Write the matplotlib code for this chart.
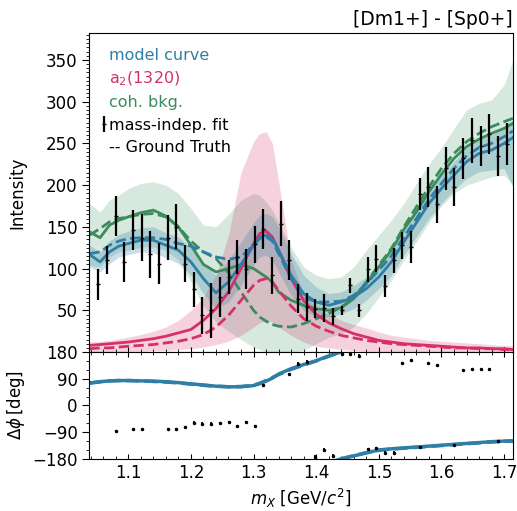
import numpy as np
import matplotlib.pyplot as plt
from matplotlib.lines import Line2D
from matplotlib.ticker import MultipleLocator

# curve grid (GeV/c^2)
mass = [1.038, 1.055, 1.07, 1.085, 1.10, 1.12, 1.14, 1.16, 1.18, 1.20,
        1.22, 1.24, 1.26, 1.28, 1.30, 1.31, 1.32, 1.33, 1.34, 1.36,
        1.38, 1.40, 1.42, 1.44, 1.46, 1.48, 1.50, 1.52, 1.54, 1.56,
        1.58, 1.60, 1.62, 1.64, 1.66, 1.68, 1.70, 1.714]

model = [117, 108, 120, 127, 130, 134, 134, 128, 122, 108,
         88, 71, 84, 105, 128, 138, 140, 136, 122, 92,
         70, 60, 56, 60, 66, 76, 90, 108, 132, 155,
         178, 196, 212, 228, 238, 242, 250, 257]
model_lo = [102, 96, 106, 114, 117, 120, 119, 113, 106, 92,
            70, 52, 60, 80, 104, 114, 116, 110, 96, 68,
            50, 43, 42, 46, 52, 62, 76, 92, 116, 138,
            160, 178, 194, 208, 216, 218, 220, 198]
model_hi = [128, 120, 133, 141, 145, 149, 150, 143, 138, 125,
            106, 92, 110, 132, 155, 164, 166, 162, 150, 118,
            92, 78, 70, 72, 80, 90, 104, 122, 146, 170,
            194, 212, 228, 244, 254, 260, 270, 278]
model_gt = [118, 120, 128, 133, 136, 137, 137, 135, 130, 127,
            120, 114, 111, 114, 128, 136, 138, 133, 118, 88,
            66, 60, 60, 61, 68, 82, 98, 115, 138, 160,
            183, 202, 220, 235, 245, 250, 258, 265]

a2 = [8, 9, 10, 11, 12, 14, 16, 19, 23, 27,
      38, 52, 72, 100, 130, 142, 145, 138, 122, 88,
      62, 45, 35, 28, 22, 18, 14, 12, 10, 9,
      8, 7, 6, 5, 5, 4, 4, 3]
a2_lo = [0, 0, 0, 0, 1, 1, 2, 2, 3, 4,
         6, 9, 13, 20, 30, 35, 38, 36, 30, 20,
         12, 7, 5, 3, 2, 1, 1, 0, 0, 0,
         0, 0, 0, 0, 0, 0, 0, 0]
a2_hi = [12, 13, 14, 16, 18, 21, 25, 30, 38, 50,
         66, 92, 140, 215, 252, 262, 264, 250, 205, 110,
         70, 52, 45, 38, 33, 29, 24, 20, 18, 16,
         14, 13, 12, 11, 10, 9, 8, 8]
a2_gt = [4, 5, 5, 6, 7, 8, 9, 11, 13, 16,
         21, 30, 44, 62, 80, 86, 88, 84, 74, 55,
         40, 31, 25, 20, 17, 14, 12, 10, 9, 8,
         7, 6, 5, 5, 4, 4, 3, 3]

bkg = [144, 137, 152, 158, 162, 167, 170, 163, 150, 128,
       105, 96, 100, 105, 100, 95, 90, 84, 72, 62,
       56, 52, 50, 53, 64, 82, 102, 122, 147, 168,
       192, 213, 232, 246, 255, 262, 268, 274]
bkg_lo = [104, 102, 114, 120, 122, 126, 126, 122, 110, 84,
          55, 36, 25, 15, 6, 3, 0, 0, 0, 0,
          2, 10, 18, 22, 30, 46, 66, 86, 110, 132,
          155, 175, 190, 200, 205, 210, 212, 200]
bkg_hi = [178, 168, 182, 188, 196, 202, 204, 200, 190, 172,
          152, 150, 165, 182, 190, 188, 180, 170, 155, 125,
          102, 92, 88, 90, 102, 122, 140, 158, 178, 202,
          225, 245, 268, 290, 298, 302, 320, 350]
bkg_gt = [140, 148, 156, 160, 162, 165, 166, 162, 150, 133,
          120, 112, 95, 72, 50, 42, 37, 33, 31, 30,
          34, 40, 46, 54, 65, 84, 104, 124, 150, 174,
          198, 220, 238, 252, 262, 270, 276, 280]

# relative phase of the model (unwrapped, deg)
phase = [75, 80, 83, 84, 84, 83, 82, 80, 77, 73,
         69, 65, 63, 63, 67, 74, 82, 92, 106, 124,
         138, 151, 167, 180.5, 190, 200, 210, 214, 217, 220,
         223, 226, 229, 232, 235, 238, 240, 241]
phase_gt = [76, 80, 83, 84, 84, 83, 81, 79, 76, 72,
            68, 65, 63, 64, 68, 75, 84, 94, 104, 122,
            136, 150, 166, 180, 191, 201, 209, 213, 216, 219,
            222, 225, 228, 231, 234, 237, 239, 240]

# mass-independent fit
bins = np.linspace(1.052, 1.704, 48)
intensity = [81, 110, 163, 108, 146, 137, 117, 106, 137, 150,
             106, 75, 44, 50, 66, 90, 114, 100, 129, 147,
             92, 154, 110, 64, 54, 52, 53, 43, 50, 80,
             50, 99, 112, 79, 110, 128, 126, 189, 198, 177,
             220, 198, 232, 254, 247, 261, 235, 249]
intensity_err = [19, 17, 24, 24, 24, 28, 28, 25, 27, 27,
                 22, 21, 22, 33, 24, 20, 20, 24, 22, 24,
                 22, 27, 24, 17, 17, 11, 17, 10, 5, 9,
                 8, 15, 16, 13, 15, 16, 19, 19, 24, 22,
                 26, 23, 25, 27, 24, 24, 24, 25]

phase_bin = [2, 4, 5, 8, 9, 10, 11, 12, 13, 14, 15, 16, 17, 18, 19,
             22, 23, 24, 25, 26, 27, 28, 29, 30, 31, 32, 33, 34, 35,
             36, 37, 38, 39, 41, 42, 43, 44, 45, 46]
phase_pts = [-85, -80, -80, -79, -79, -72, -58, -62, -62, -60, -57, -69, -55, -68, 69,
             106, 140, 148, -172, -150, -170, 173, 175, 168, -146, -144, -159, -159, 142,
             152, -139, 142, 136, -133, 119, 124, 122, 122, -119]
phase_pts_err = [2, 2, 2, 2, 2, 2, 4, 5, 7, 3, 3, 2, 4, 2, 2,
                 3, 6, 4, 6, 6, 6, 4, 3, 5, 4, 4, 4, 4, 3,
                 4, 2, 2, 2, 2, 2, 2, 2, 2, 2]

BLUE = '#2f7ea6'
PINK = '#d62f6c'
GREEN = '#3a8c5c'

fig = plt.figure(figsize=(5.17, 5.11), dpi=100)
ax = fig.add_axes([0.173, 0.311, 0.819, 0.624])
axp = fig.add_axes([0.173, 0.102, 0.819, 0.209], sharex=ax)

ax.fill_between(mass, bkg_lo, bkg_hi, color=GREEN, alpha=0.2, lw=0)
ax.fill_between(mass, a2_lo, a2_hi, color=PINK, alpha=0.22, lw=0)
ax.fill_between(mass, model_lo, model_hi, color=BLUE, alpha=0.25, lw=0)

ax.plot(mass, bkg, color=GREEN, lw=2)
ax.plot(mass, bkg_gt, color=GREEN, lw=2, ls='--')
ax.plot(mass, a2, color=PINK, lw=2)
ax.plot(mass, a2_gt, color=PINK, lw=2, ls='--')
ax.plot(mass, model, color=BLUE, lw=2)
ax.plot(mass, model_gt, color=BLUE, lw=2, ls='--')

eb = ax.errorbar(bins, intensity, yerr=intensity_err, fmt='_', color='k',
                 ms=3, elinewidth=1.6, capsize=0, zorder=5)

ax.set_xlim(1.038, 1.714)
ax.set_ylim(0, 382)
ax.yaxis.set_major_locator(MultipleLocator(50))
ax.yaxis.set_minor_locator(MultipleLocator(5))
ax.set_yticks([50, 100, 150, 200, 250, 300, 350])
ax.xaxis.set_major_locator(MultipleLocator(0.1))
ax.xaxis.set_minor_locator(MultipleLocator(0.02))
ax.tick_params(axis='x', which='both', direction='in', labelbottom=False)
ax.tick_params(axis='y', which='major', length=5, labelsize=12)
ax.tick_params(axis='y', which='minor', length=2.5)
ax.set_ylabel('Intensity', fontsize=12)
ax.yaxis.set_label_coords(-0.148, 0.5)
ax.set_title('[Dm1+] - [Sp0+]', loc='right', fontsize=13.5)

handles = [Line2D([], [], lw=0), Line2D([], [], lw=0), Line2D([], [], lw=0),
           eb, Line2D([], [], lw=0)]
labels = ['model curve', 'a$_2$(1320)', 'coh. bkg.', 'mass-indep. fit',
          '-- Ground Truth']
leg = ax.legend(handles, labels, loc='upper left', frameon=False,
                handlelength=0, handletextpad=0.3, fontsize=11.5,
                labelspacing=0.45)
for text, c in zip(leg.get_texts(), [BLUE, PINK, GREEN, 'k', 'k']):
    text.set_color(c)

# phase panel: draw the unwrapped curve and its copy shifted by 360 deg
for shift in (0, -360):
    axp.plot(mass, np.array(phase) + shift, color=BLUE, lw=2.5)
    axp.plot(mass, np.array(phase_gt) + shift, color=BLUE, lw=2.5, ls='--')
axp.errorbar(bins[phase_bin], phase_pts, yerr=phase_pts_err, fmt='.',
             color='k', ms=3, elinewidth=1.3, capsize=0, zorder=5)

axp.set_ylim(-180, 180)
axp.set_yticks([-180, -90, 0, 90, 180])
axp.yaxis.set_minor_locator(MultipleLocator(30))
axp.tick_params(axis='x', which='both', direction='in', top=True, labelsize=12)
axp.tick_params(axis='y', which='major', length=5, labelsize=12)
axp.tick_params(axis='y', which='minor', length=2.5)
axp.set_ylabel(r'$\Delta\phi\,$[deg]', fontsize=12)
axp.yaxis.set_label_coords(-0.148, 0.5)
axp.set_xlabel(r'$m_X$ [GeV/$c^2$]', fontsize=12)

fig.savefig('out.png', dpi=100)
